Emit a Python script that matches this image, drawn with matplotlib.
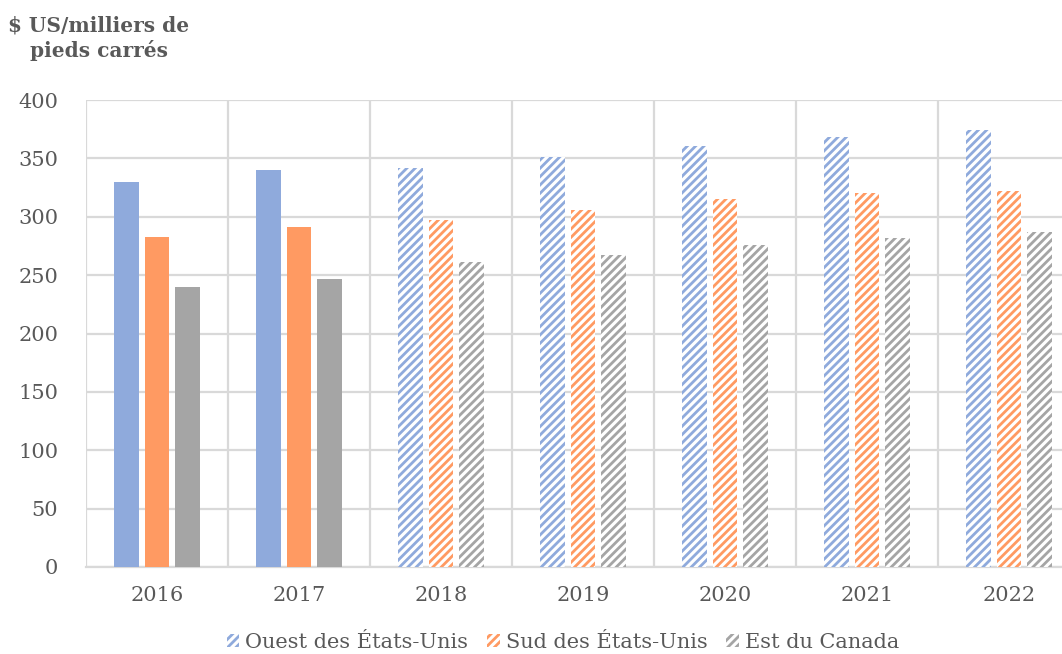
import numpy as np
import matplotlib.pyplot as plt
from matplotlib.patches import Patch

years = ['2016', '2017', '2018', '2019', '2020', '2021', '2022']
ouest = [330, 340, 342, 351, 361, 368, 374]
sud = [283, 291, 297, 306, 315, 320, 322]
est = [240, 247, 261, 267, 276, 282, 287]
n_actual = 2  # 2016-2017 solid, later years projected (hatched)

labels = ['Ouest des États-Unis', 'Sud des États-Unis', 'Est du Canada']
colors = ['#8FAADC', '#FF9A62', '#A5A5A5']
text_col = '#595959'
grid_col = '#D9D9D9'

plt.rcParams['font.family'] = ['DejaVu Serif']
plt.rcParams['hatch.linewidth'] = 2.0

fig = plt.figure(figsize=(10.62, 6.54), dpi=100)
ax = fig.add_axes([86/1062, 1 - 567/654, 994/1062, 467/654])

x = np.arange(len(years))
w = 0.176
step = 0.218
for k, (vals, c) in enumerate(zip([ouest, sud, est], colors)):
    xs = x + (k - 1) * step
    ax.bar(xs[:n_actual], vals[:n_actual], w, color=c, linewidth=0, zorder=3)
    ax.bar(xs[n_actual:], vals[n_actual:], w, facecolor='white', edgecolor=c,
           hatch='////', linewidth=0, zorder=3)

ax.set_xlim(-0.5, len(years) - 0.5)
ax.set_ylim(0, 400)
ax.set_yticks(range(0, 401, 50))
ax.set_xticks(x)
ax.set_xticklabels(years)
ax.set_xticks(np.arange(-0.5, len(years), 1), minor=True)
ax.tick_params(axis='both', which='both', length=0, labelsize=15, colors=text_col)
ax.tick_params(axis='y', pad=20)
ax.tick_params(axis='x', pad=14)
ax.grid(axis='y', which='major', color=grid_col, linewidth=1.6, zorder=0)
ax.grid(axis='x', which='minor', color=grid_col, linewidth=1.6, zorder=0)
ax.grid(axis='x', which='major', visible=False)
for s in ax.spines.values():
    s.set_visible(False)
ax.spines['bottom'].set_visible(True)
ax.spines['bottom'].set_color(grid_col)
ax.spines['bottom'].set_linewidth(1.6)

fig.text(99/1062, 1 - 38/654, '$ US/milliers de\npieds carrés', ha='center', va='center',
         fontsize=14.5, fontweight='bold', color=text_col, linespacing=1.25)

handles = [Patch(facecolor='white', edgecolor=c, hatch='////', linewidth=0, label=l)
           for c, l in zip(colors, labels)]
leg = fig.legend(handles=handles, loc='center', bbox_to_anchor=(563/1062, 1 - 642/654),
                 ncol=3, frameon=False, fontsize=15, handlelength=0.6, handleheight=0.6,
                 handletextpad=0.3, columnspacing=0.9, labelcolor=text_col)

fig.savefig('out.png', dpi=100)
